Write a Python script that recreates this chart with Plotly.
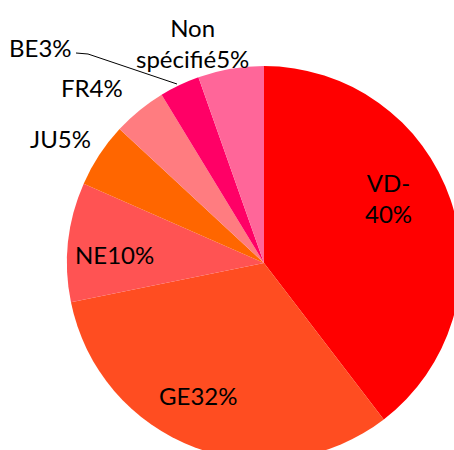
import plotly.graph_objects as go

# ---- data ----
categories = ["VD-", "GE", "NE", "JU", "FR", "BE", "Non spécifié"]
shares = [39.6, 32.2, 9.8, 5.3, 4.4, 3.3, 5.4]
label_texts = ["VD-<br>40%", "GE32%", "NE10%", "JU5%", "FR4%", "BE3%", "Non<br>spécifié5%"]

# ---- style / layout ----
colors = ["#FF0000", "#FF4D21", "#FF5353", "#FF6600", "#FF7C80", "#FF0066", "#FF6699"]
W, H = 461, 460
L, T = 67, 66
SIZE = 394

def px(x):
    return (x - L) / SIZE

def py(y):
    return (H - y) / SIZE

# label centers (pixels)
label_pos = [(388, 198), (198, 395), (114, 254), (60, 139), (92, 87), (40, 48), (192, 43)]

fig = go.Figure(go.Pie(
    labels=categories,
    values=shares,
    sort=False,
    direction="clockwise",
    rotation=0,
    textinfo="none",
    hoverinfo="label+percent",
    marker=dict(colors=colors, line=dict(width=0)),
    showlegend=False,
    domain=dict(x=[0, 1], y=[0, 1]),
))

annotations = []
for txt, (x, y) in zip(label_texts, label_pos):
    annotations.append(dict(
        text=txt, x=px(x), y=py(y), xref="paper", yref="paper",
        xanchor="center", yanchor="middle", showarrow=False,
        font=dict(family="Lato", size=24, color="#000000"),
    ))

# leader line for BE
shapes = [dict(
    type="path", xref="paper", yref="paper",
    path=f"M {px(76)} {py(53)} L {px(88)} {py(54)} L {px(177)} {py(84)}",
    line=dict(color="#000000", width=1),
)]

fig.update_layout(
    width=W, height=H,
    margin=dict(l=L, r=0, t=T, b=0, pad=0),
    paper_bgcolor="#FFFFFF",
    plot_bgcolor="#FFFFFF",
    annotations=annotations,
    shapes=shapes,
)

fig.write_html(
    "out.html",
    config={"displayModeBar": False},
    post_script="document.body.style.margin='0';document.body.style.overflow='hidden';document.documentElement.style.overflow='hidden';",
)
